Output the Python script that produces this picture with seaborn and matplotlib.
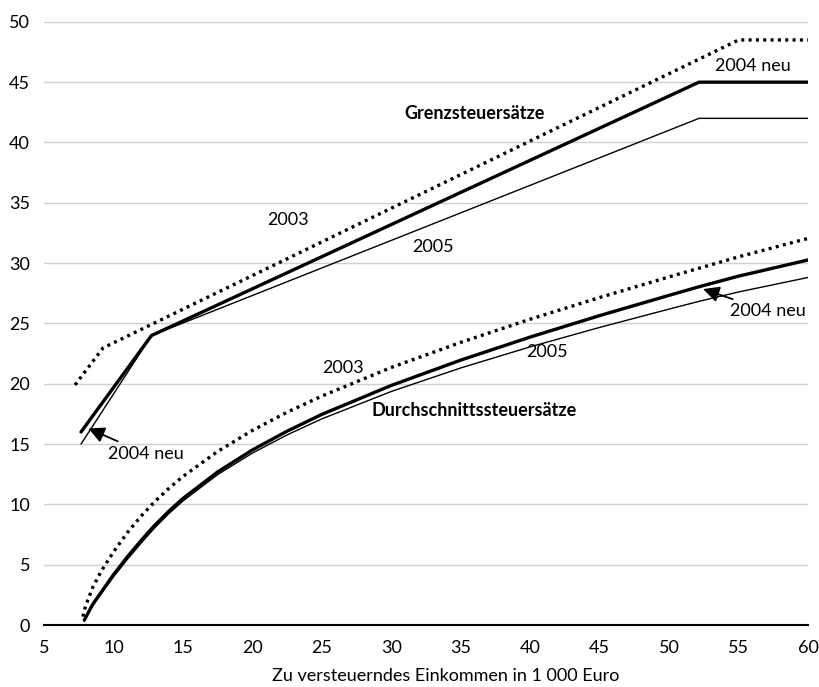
import matplotlib
matplotlib.use("Agg")
import matplotlib.pyplot as plt
import seaborn as sns
import pandas as pd

# Grenzsteuersaetze (marginal rates), income in 1000 Euro
gr_2003_x = [7.235, 9.251, 55.007, 60]
gr_2003_y = [19.9, 22.97, 48.5, 48.5]
gr_2004_x = [7.664, 12.74, 52.152, 60]
gr_2004_y = [16.0, 24.0, 45.0, 45.0]
gr_2005_x = [7.664, 12.74, 52.152, 60]
gr_2005_y = [15.0, 24.0, 42.0, 42.0]

# Durchschnittssteuersaetze (average rates)
avg_x_2003 = [7.8, 8.0, 8.5, 9.0, 9.25, 10, 11, 12, 13, 14, 15, 17.5, 20, 22.5, 25, 30, 35, 40, 45, 50, 55, 60]
avg_y_2003 = [0.7, 1.6, 3.1, 4.2, 4.7, 6.06, 7.66, 9.04, 10.26, 11.34, 12.31, 14.39, 16.13, 17.64, 18.98,
              21.35, 23.43, 25.35, 27.15, 28.86, 30.52, 32.05]
avg_x_new = [7.9, 8.5, 9, 10, 11, 12, 12.74, 13, 14, 15, 17.5, 20, 22.5, 25, 30, 35, 40, 45, 50, 52.15, 55, 60]
avg_y_2004 = [0.4, 1.7, 2.53, 4.17, 5.65, 7.02, 7.98, 8.30, 9.45, 10.49, 12.69, 14.51, 16.07, 17.46,
              19.86, 21.96, 23.87, 25.65, 27.33, 28.04, 28.92, 30.26]
avg_y_2005 = [0.4, 1.6, 2.40, 3.99, 5.44, 6.80, 7.76, 8.09, 9.25, 10.28, 12.47, 14.25, 15.76, 17.09,
              19.36, 21.31, 23.06, 24.67, 26.19, 26.83, 27.61, 28.81]

x_ticks = list(range(5, 61, 5))
y_ticks = list(range(0, 51, 5))

sns.set_style("white")
plt.rcParams['font.family'] = ['Lato', 'DejaVu Sans']
plt.rcParams['text.color'] = 'black'
plt.rcParams['xtick.color'] = 'black'
plt.rcParams['ytick.color'] = 'black'
plt.rcParams['axes.labelcolor'] = 'black'

fig = plt.figure(figsize=(8.19, 6.87), dpi=100)
ax = fig.add_axes([0.0537, 0.0902, 0.9329, 0.878])

for y in y_ticks[1:]:
    ax.axhline(y, color="#d0d0d0", lw=1, zorder=0)

dot = (0, (0.9, 1.3))

def draw(xs, ys, lw, ls):
    sns.lineplot(x=xs, y=ys, ax=ax, color="black", lw=lw, linestyle=ls, legend=False)

draw(gr_2003_x, gr_2003_y, 2.4, dot)
draw(gr_2004_x, gr_2004_y, 2.4, "-")
draw(gr_2005_x, gr_2005_y, 1.0, "-")
draw(avg_x_2003, avg_y_2003, 2.4, dot)
draw(avg_x_new, avg_y_2004, 2.4, "-")
draw(avg_x_new, avg_y_2005, 1.0, "-")

fs = 13
ax.text(36.0, 42.4, "Grenzsteuersätze", fontsize=fs, fontweight="bold", ha="center", va="center")
ax.text(56.0, 46.3, "2004 neu", fontsize=fs, ha="center", va="center")
ax.text(22.6, 33.6, "2003", fontsize=fs, ha="center", va="center")
ax.text(33.0, 31.3, "2005", fontsize=fs, ha="center", va="center")
ax.text(26.5, 21.3, "2003", fontsize=fs, ha="center", va="center")
ax.text(41.2, 22.6, "2005", fontsize=fs, ha="center", va="center")
ax.text(36.0, 17.8, "Durchschnittssteuersätze", fontsize=fs, fontweight="bold", ha="center", va="center")

arrow = dict(arrowstyle="-|>", color="black", lw=1.3, mutation_scale=24, shrinkA=2, shrinkB=0)
ax.annotate("2004 neu", xy=(52.45, 27.85), xytext=(54.4, 26.0), fontsize=fs, ha="left", va="center",
            arrowprops=arrow)
ax.annotate("2004 neu", xy=(8.2, 16.3), xytext=(9.6, 14.2), fontsize=fs, ha="left", va="center",
            arrowprops=arrow)

ax.set_xlim(5, 60)
ax.set_ylim(0, 50)
ax.set_xticks(x_ticks)
ax.set_yticks(y_ticks)
ax.tick_params(axis="x", direction="out", length=6, width=1.2, color="black", labelsize=fs, pad=5)
ax.tick_params(axis="y", length=0, labelsize=fs, pad=10)
for s in ["top", "right", "left"]:
    ax.spines[s].set_visible(False)
ax.spines["bottom"].set_linewidth(1.5)
ax.spines["bottom"].set_color("black")
ax.set_xlabel("Zu versteuerndes Einkommen in 1 000 Euro", fontsize=13)
ax.xaxis.set_label_coords(0.526, -0.072)
ax.set_ylabel("")

fig.savefig("out.png", dpi=100)
